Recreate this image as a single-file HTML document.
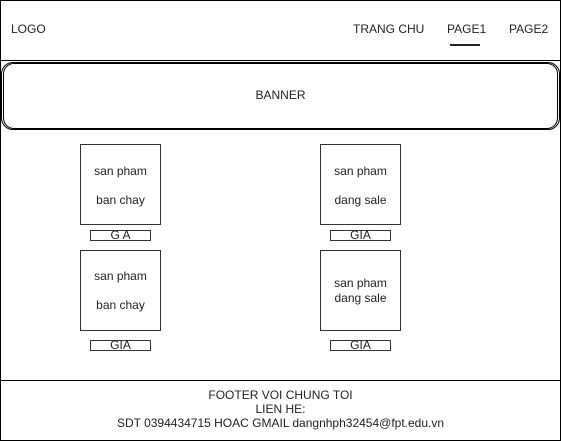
<!DOCTYPE html>
<html><head><style>
body{margin:0;width:561px;height:441px;position:relative;background:#fff;font-family:"Liberation Sans",Arial,sans-serif;font-size:12px;color:#222;overflow:hidden}
div{position:absolute;box-sizing:border-box}
.t{white-space:nowrap}
.box{border:1px solid #333;background:#fff}
.c{text-align:center}
</style></head><body>
<div style="left:0;top:0;width:561px;height:441px;border:1px solid #000"></div>
<div style="left:0;top:60px;width:561px;height:1px;background:#000"></div>
<div class="t" style="left:11px;top:22px">LOGO</div>
<div class="t" style="left:353px;top:22px">TRANG CHU</div>
<div class="t" style="left:447px;top:22px">PAGE1</div>
<div style="left:450px;top:44px;width:30px;height:2px;background:#222"></div>
<div class="t" style="left:509px;top:22px">PAGE2</div>
<div style="left:1px;top:62px;width:559px;height:68px;border:1px solid #000;border-radius:12px"></div>
<div style="left:3px;top:63px;width:555px;height:66px;border:1px solid #000;border-radius:11px"></div>
<div class="t c" style="left:0;top:88px;width:561px">BANNER</div>

<div class="box" style="left:80px;top:144px;width:81px;height:81px"></div>
<div class="t c" style="left:80px;top:164px;width:81px">san pham</div>
<div class="t c" style="left:80px;top:193px;width:81px">ban chay</div>
<div class="box" style="left:90px;top:230px;width:61px;height:11px"></div>
<div class="t c" style="left:90px;top:228px;width:61px">G A</div>

<div class="box" style="left:320px;top:144px;width:81px;height:81px"></div>
<div class="t c" style="left:320px;top:164px;width:81px">san pham</div>
<div class="t c" style="left:320px;top:193px;width:81px">dang sale</div>
<div class="box" style="left:330px;top:230px;width:61px;height:11px"></div>
<div class="t c" style="left:330px;top:228px;width:61px">GIA</div>

<div class="box" style="left:80px;top:250px;width:81px;height:81px"></div>
<div class="t c" style="left:80px;top:269px;width:81px">san pham</div>
<div class="t c" style="left:80px;top:298px;width:81px">ban chay</div>
<div class="box" style="left:90px;top:340px;width:61px;height:11px"></div>
<div class="t c" style="left:90px;top:338px;width:61px">GIA</div>

<div class="box" style="left:320px;top:250px;width:81px;height:81px"></div>
<div class="t c" style="left:320px;top:276px;width:81px">san pham</div>
<div class="t c" style="left:320px;top:291px;width:81px">dang sale</div>
<div class="box" style="left:330px;top:340px;width:61px;height:11px"></div>
<div class="t c" style="left:330px;top:338px;width:61px">GIA</div>

<div style="left:0;top:380px;width:561px;height:1px;background:#000"></div>
<div class="t c" style="left:0;top:388px;width:561px;line-height:14px">FOOTER VOI CHUNG TOI<br>LIEN HE:<br>SDT 0394434715 HOAC GMAIL dangnhph32454@fpt.edu.vn</div>
</body></html>
